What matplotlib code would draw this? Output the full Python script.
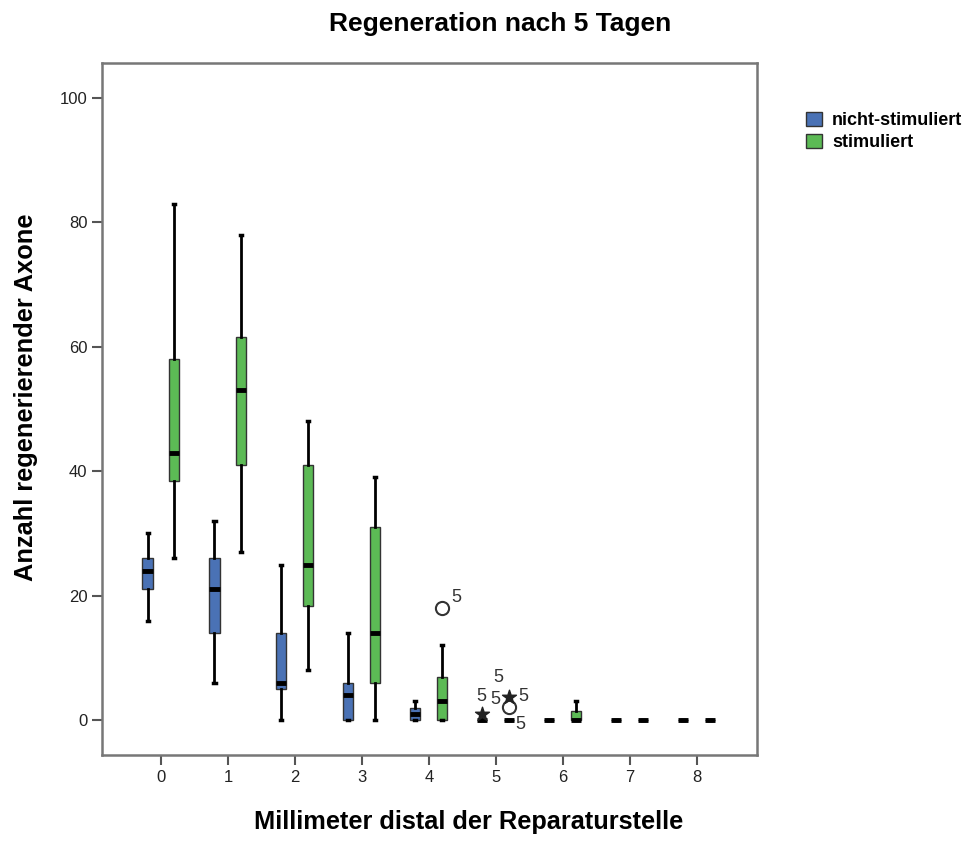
import matplotlib
matplotlib.use("Agg")
import matplotlib.pyplot as plt
from matplotlib.patches import Patch

plt.rcParams['font.family'] = ['Liberation Sans', 'DejaVu Sans']

categories = [0, 1, 2, 3, 4, 5, 6, 7, 8]
series_names = ["nicht-stimuliert", "stimuliert"]

# whisker low, Q1, median, Q3, whisker high
blue_lo  = [16, 6, 0, 0, 0, 0, 0, 0, 0]
blue_q1  = [21, 14, 5, 0, 0, 0, 0, 0, 0]
blue_med = [24, 21, 6, 4, 1, 0, 0, 0, 0]
blue_q3  = [26, 26, 14, 6, 2, 0, 0, 0, 0]
blue_hi  = [30, 32, 25, 14, 3, 0, 0, 0, 0]

green_lo  = [26, 27, 8, 0, 0, 0, 0, 0, 0]
green_q1  = [38.5, 41, 18.3, 6, 0, 0, 0, 0, 0]
green_med = [43, 53, 25, 14, 3, 0, 0, 0, 0]
green_q3  = [58, 61.5, 41, 31, 7, 0, 1.5, 0, 0]
green_hi  = [83, 78, 48, 39, 12, 0, 3, 0, 0]

# outliers: (category, series index, value)
circle_outliers = [(4, 1, 18), (5, 1, 2.1)]
star_outliers = [(5, 0, 1), (5, 1, 3.7)]
# case labels: (category, series index, value, label)
case_labels = [(4, 1, 18, "5"), (5, 0, 1, "5"), (5, 0, 1, "5"), (5, 0, 1, "5"),
               (5, 1, 3.7, "5"), (5, 1, 2.1, "5")]
label_offsets = [(14, 11), (-1, 17), (13, 14), (16, 36), (14, 1), (11, -17)]

blue_color = "#4a72b5"
green_color = "#5cba55"
offset = 0.2
bw = 0.15

fig = plt.figure(figsize=(9.74, 8.41), dpi=100)
ax = fig.add_axes([0.1047, 0.1023, 0.6725, 0.8228])

def stats(lo, q1, med, q3, hi):
    return [dict(whislo=a, q1=b, med=c, q3=d, whishi=e, fliers=[])
            for a, b, c, d, e in zip(lo, q1, med, q3, hi)]

for si, (st, col) in enumerate([(stats(blue_lo, blue_q1, blue_med, blue_q3, blue_hi), blue_color),
                                (stats(green_lo, green_q1, green_med, green_q3, green_hi), green_color)]):
    pos = [c + (-offset if si == 0 else offset) for c in categories]
    ax.bxp(st, positions=pos, widths=bw, patch_artist=True, showfliers=False,
           capwidths=0.03,
           boxprops=dict(facecolor=col, edgecolor="#333333", linewidth=1.0),
           medianprops=dict(color="black", linewidth=3.5, solid_capstyle="butt"),
           whiskerprops=dict(color="black", linewidth=2.0),
           capprops=dict(color="black", linewidth=2.5),
           manage_ticks=False, zorder=3)

def xpos(c, s):
    return c + (-offset if s == 0 else offset)

ax.scatter([xpos(c, s) for c, s, v in circle_outliers], [v for c, s, v in circle_outliers],
           s=90, facecolors="white", edgecolors="#333333", linewidths=1.5, zorder=5)
ax.scatter([xpos(c, s) for c, s, v in star_outliers], [v for c, s, v in star_outliers],
           marker="*", s=110, color="#222222", zorder=5)
for (c, s, v, t), (dx, dy) in zip(case_labels, label_offsets):
    ax.annotate(t, (xpos(c, s), v), xytext=(dx, dy), textcoords="offset pixels",
                ha="center", va="center", fontsize=13, color="#333333")

ax.set_xlim(-0.88, 8.9)
ax.set_ylim(-5.6, 105.6)
ax.set_xticks(categories)
ax.set_xticklabels([str(c) for c in categories])
ax.set_yticks([0, 20, 40, 60, 80, 100])
ax.tick_params(axis="both", direction="out", length=7, width=1.5, color="#555555",
               labelsize=12, labelcolor="#222222")
for sp in ax.spines.values():
    sp.set_color("#777777")
    sp.set_linewidth(1.8)

fig.text(0.513, 0.972, "Regeneration nach 5 Tagen", ha="center", va="center",
         fontsize=19, fontweight="bold")
fig.text(0.4815, 0.022, "Millimeter distal der Reparaturstelle", ha="center", va="center",
         fontsize=18.3, fontweight="bold")
fig.text(0.027, 0.528, "Anzahl regenerierender Axone", ha="center", va="center",
         rotation=90, fontsize=18.3, fontweight="bold")

handles = [Patch(facecolor=blue_color, edgecolor="#333333"),
           Patch(facecolor=green_color, edgecolor="#333333")]
fig.legend(handles, series_names, loc="upper left", bbox_to_anchor=(0.818, 0.878),
           frameon=False, prop=dict(weight="bold", size=13), handlelength=0.9,
           handleheight=0.85, handletextpad=0.55, labelspacing=0.25, borderpad=0)

fig.savefig("out.png", dpi=100)
